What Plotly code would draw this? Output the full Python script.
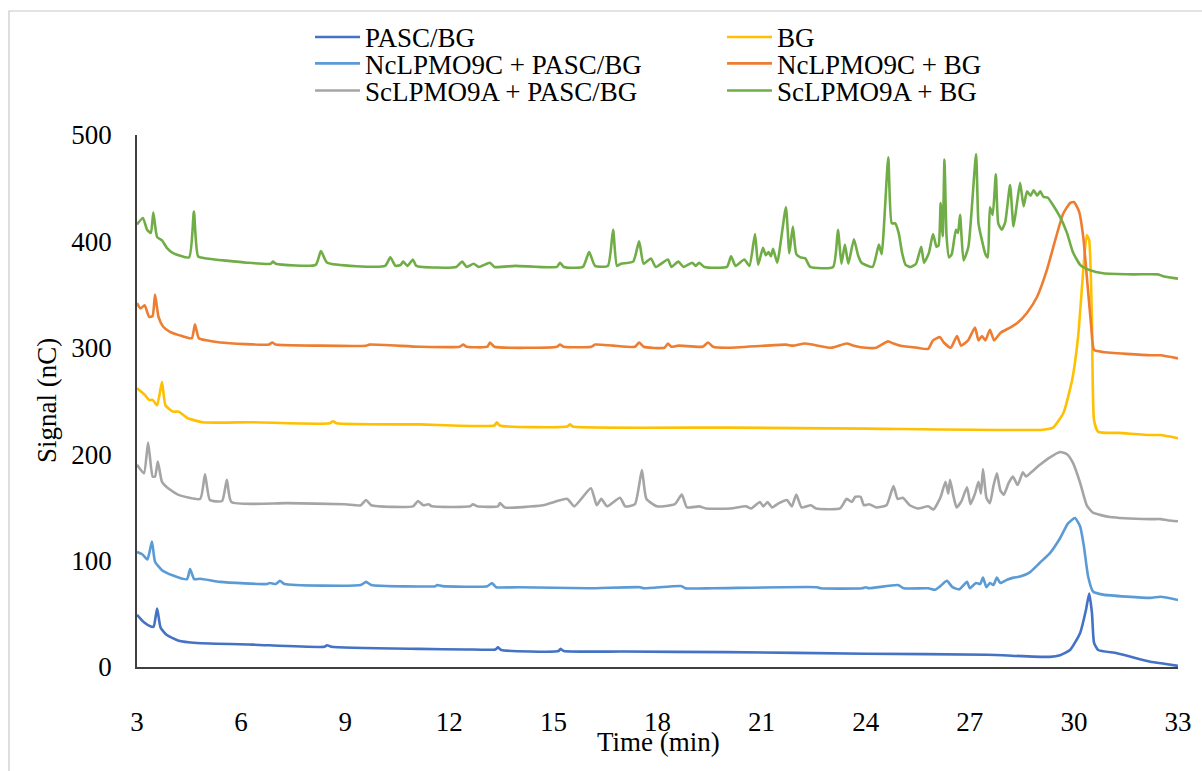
import plotly.graph_objects as go

# ---------------- data ----------------
pasc_x = [3.0, 3.2, 3.4, 3.48, 3.58, 3.68, 3.86, 4.18, 4.73, 6.34, 8.4, 8.48, 8.6, 11.15, 12.5, 13.33, 13.4, 13.5,
          15.15, 15.2, 15.3, 17.0, 20.0, 24.0, 27.5, 29.31, 29.6, 29.89, 30.18, 30.35, 30.44, 30.52, 30.58, 30.7,
          31.24, 32.2, 32.6, 33.0]
pasc_y = [49, 42, 38, 38, 55, 37, 30, 25, 22.5, 21, 19, 20.5, 19, 17, 16.5, 16.5, 18.5, 16,
          15, 17, 15, 14.5, 14, 12.5, 11.5, 9.5, 11, 16, 32, 54, 69, 51, 23, 16,
          13, 5, 3, 1]

bg_x = [3.0, 3.22, 3.35, 3.45, 3.58, 3.72, 3.82, 4.04, 4.2, 4.45, 4.9, 6.34, 8.55, 8.65, 8.75, 11.15, 13.3, 13.37,
        13.45, 15.4, 15.48, 15.56, 20.0, 24.0, 29.1, 29.4, 29.7, 29.95, 30.12, 30.27, 30.37, 30.44, 30.52, 30.58,
        30.7, 31.3, 32.2, 32.5, 33.0]
bg_y = [262, 256, 251, 251, 246, 268, 246, 240, 240, 234, 230, 230, 229, 231, 229, 228, 227, 230,
        227, 226, 228, 226, 225, 224, 223, 225, 239, 270, 310, 373, 406, 401, 326, 232,
        221, 220, 218, 218, 215]

nc_pasc_x = [3.0, 3.15, 3.3, 3.43, 3.52, 3.72, 4.04, 4.44, 4.53, 4.65, 4.82, 5.4, 6.75, 6.83, 7.0, 7.12, 7.25,
             9.45, 9.6, 9.75, 11.6, 11.65, 11.8, 13.1, 13.23, 13.35, 14.0, 16.0, 17.5, 17.6, 18.7, 18.8, 19.6,
             22.6, 22.7, 23.9, 24.0, 24.1, 24.93, 25.1, 25.8, 26.0, 26.15, 26.34, 26.5, 26.7, 26.92, 27.0, 27.18,
             27.3, 27.38, 27.48, 27.58, 27.68, 27.78, 27.88, 28.07, 28.26, 28.45, 28.73, 29.02, 29.31, 29.6,
             29.83, 30.03, 30.18, 30.29, 30.41, 30.55, 30.84, 32.2, 32.5, 33.0]
nc_pasc_y = [108, 106, 101, 118, 99, 91, 86, 82.5, 92, 82.5, 83, 80, 78, 79, 78, 81, 78,
             77, 80, 77, 76, 77, 76, 76, 79, 75, 75, 74, 75, 74, 76, 74, 74,
             75, 74, 74, 75, 74, 77, 74, 74, 72.6, 76, 81, 75, 73, 80, 74, 79,
             78, 84, 75, 79, 77, 84, 79, 82, 84, 85, 89, 98, 107, 121,
             135, 140, 132, 113, 85, 71, 68, 65, 66, 63]

nc_bg_x = [3.0, 3.1, 3.22, 3.35, 3.45, 3.52, 3.62, 3.75, 3.95, 4.3, 4.58, 4.67, 4.78, 5.0, 5.4, 6.8, 6.9, 7.0,
           8.27, 9.6, 9.7, 11.15, 12.3, 12.4, 12.5, 13.1, 13.17, 13.3, 15.1, 15.19, 15.3, 16.1, 16.2, 16.72,
           17.35, 17.47, 17.6, 18.2, 18.3, 18.4, 18.6, 19.3, 19.46, 19.6, 20.0, 21.7, 21.9, 22.25, 23.0, 23.45,
           23.66, 24.0, 24.3, 24.64, 24.8, 25.0, 25.5, 25.8, 25.94, 26.14, 26.25, 26.45, 26.63, 26.75, 26.95,
           27.15, 27.25, 27.35, 27.45, 27.58, 27.7, 27.88, 28.16, 28.36, 28.65, 28.94, 29.22, 29.46, 29.69,
           29.89, 30.0, 30.15, 30.27, 30.38, 30.5, 30.58, 30.84, 32.2, 32.5, 33.0]
nc_bg_y = [342, 337, 340, 329, 330, 350, 329, 320, 315, 311, 309, 322, 309, 307, 305, 303, 305, 303,
           302, 302, 303, 301, 301, 303, 301, 301, 305, 301, 301, 303, 301, 301, 303, 302,
           301, 305, 301, 300, 304, 301, 302, 301, 305, 301, 300, 303, 302, 304, 300, 304,
           302, 300, 300, 306, 304, 302, 300, 299, 307, 310, 305, 300, 311, 302, 307,
           319, 307, 311, 307, 317, 307, 314, 319, 323, 333, 348, 373, 401, 426,
           436, 437, 428, 404, 364, 320, 298, 296, 293, 293, 290]

sc_pasc_x = [3.0, 3.2, 3.32, 3.45, 3.52, 3.6, 3.72, 3.86, 4.18, 4.82, 4.96, 5.1, 5.45, 5.59, 5.72, 7.32, 9.0,
             9.45, 9.6, 9.75, 10.95, 11.1, 11.25, 11.4, 11.5, 12.6, 12.68, 12.8, 13.4, 13.46, 13.6, 14.7, 15.4,
             15.6, 16.08, 16.25, 16.38, 16.55, 16.92, 17.07, 17.35, 17.55, 17.68, 17.98, 18.5, 18.7, 18.85,
             19.2, 19.4, 20.1, 20.55, 20.7, 20.95, 21.05, 21.17, 21.3, 21.5, 21.73, 21.87, 22.0, 22.15, 22.42,
             22.57, 23.26, 23.45, 23.6, 23.7, 23.85, 23.95, 24.1, 24.3, 24.6, 24.8, 24.92, 25.07, 25.27, 25.5,
             25.8, 25.95, 26.15, 26.3, 26.38, 26.43, 26.52, 26.62, 26.76, 26.92, 27.02, 27.15, 27.25, 27.32,
             27.38, 27.48, 27.58, 27.68, 27.78, 27.88, 27.98, 28.12, 28.24, 28.38, 28.53, 28.62, 28.77, 29.02,
             29.31, 29.6, 29.8, 29.97, 30.18, 30.37, 30.55, 31.04, 32.2, 32.5, 32.7, 33.0]
sc_pasc_y = [190, 182, 211, 179, 179, 193, 174, 169, 162, 158, 181, 157, 156, 176, 155, 154, 153,
             152, 157, 152, 151, 156, 152, 153, 151, 151, 153, 151, 151, 154, 150, 152, 158,
             151, 168, 152, 158, 151, 159, 151, 153, 185, 158, 151, 153, 162, 150,
             151, 149, 149, 151, 149, 155, 151, 155, 150, 154, 157, 151, 162, 150, 152,
             149, 149, 158, 155, 160, 160, 152, 153, 150, 152, 170, 158, 159, 152, 149,
             151, 148, 159, 174, 163, 176, 162, 150, 156, 169, 153, 163, 174, 163,
             186, 159, 154, 170, 182, 166, 162, 173, 179, 171, 183, 179, 183, 190,
             197, 202, 200, 192, 173, 152, 145, 141, 139, 139, 138, 137]

sc_bg_x = [3.0, 3.17, 3.29, 3.4, 3.47, 3.58, 3.72, 3.86, 4.04, 4.5, 4.64, 4.76, 5.0, 6.17, 6.85, 6.92, 7.0, 8.15,
           8.3, 8.48, 10.15, 10.3, 10.45, 10.6, 10.67, 10.8, 10.95, 11.05, 12.2, 12.37, 12.5, 12.7, 12.85, 13.17,
           13.3, 13.9, 15.1, 15.19, 15.3, 15.85, 16.03, 16.2, 16.57, 16.72, 16.83, 16.95, 17.3, 17.47, 17.6,
           17.81, 17.95, 18.3, 18.4, 18.6, 18.75, 19.0, 19.1, 19.2, 19.35, 20.0, 20.12, 20.25, 20.5, 20.65,
           20.81, 20.9, 21.04, 21.12, 21.2, 21.27, 21.33, 21.45, 21.7, 21.8, 21.9, 22.0, 22.12, 22.26, 22.4,
           23.06, 23.2, 23.3, 23.4, 23.5, 23.66, 23.78, 23.88, 24.2, 24.38, 24.46, 24.65, 24.75, 24.85, 24.95,
           25.05, 25.15, 25.3, 25.45, 25.6, 25.68, 25.82, 25.94, 26.04, 26.1, 26.16, 26.22, 26.27, 26.33,
           26.4, 26.48, 26.6, 26.66, 26.72, 26.82, 26.96, 27.18, 27.25, 27.35, 27.45, 27.52, 27.58, 27.66,
           27.75, 27.82, 27.92, 28.02, 28.16, 28.26, 28.36, 28.45, 28.55, 28.65, 28.75, 28.84, 28.94, 29.03,
           29.12, 29.25, 29.4, 29.6, 29.8, 29.97, 30.18, 30.46, 30.84, 31.7, 32.42, 32.6, 33.0]
sc_bg_y = [416, 422, 411, 408, 427, 404, 401, 394, 389, 385, 428, 386, 384, 380, 379, 381, 379, 378,
           391, 380, 377, 385, 377, 378, 381, 377, 383, 377, 376, 381, 376, 379, 376, 380,
           376, 377, 376, 380, 376, 376, 390, 377, 377, 411, 377, 379, 381, 400, 379,
           384, 376, 383, 376, 381, 376, 380, 377, 380, 376, 376, 386, 377, 383, 377,
           407, 378, 394, 387, 390, 386, 393, 380, 432, 389, 414, 388, 385, 384, 376,
           376, 411, 379, 397, 379, 402, 387, 380, 376, 397, 388, 479, 417, 417, 408,
           389, 378, 376, 379, 395, 380, 389, 407, 395, 396, 436, 405, 477, 405,
           385, 388, 411, 408, 425, 382, 395, 482, 417, 401, 388, 385, 432, 425,
           463, 417, 411, 418, 453, 414, 436, 455, 433, 447, 443, 448, 443, 447,
           442, 441, 434, 423, 408, 390, 378, 373, 370, 369, 369, 367, 365]

series_names = ["PASC/BG", "BG", "NcLPMO9C + PASC/BG", "NcLPMO9C + BG", "ScLPMO9A + PASC/BG", "ScLPMO9A + BG"]
series_x = [pasc_x, bg_x, nc_pasc_x, nc_bg_x, sc_pasc_x, sc_bg_x]
series_y = [pasc_y, bg_y, nc_pasc_y, nc_bg_y, sc_pasc_y, sc_bg_y]
series_colors = ["#4472C4", "#FFC000", "#5B9BD5", "#ED7D31", "#A5A5A5", "#70AD47"]

x_ticks = [3, 6, 9, 12, 15, 18, 21, 24, 27, 30, 33]
y_ticks = [0, 100, 200, 300, 400, 500]

# ---------------- figure ----------------
FONT = "Liberation Serif"
FS = 27
legend_ids = ["legend", "legend2", "legend3", "legend4", "legend5", "legend6"]
# positions (paper coords) of each legend entry: two columns, three rows
legend_pos = [(0.1662, 1.1835), (0.562, 1.1835),
              (0.1662, 1.1337), (0.562, 1.1337),
              (0.1662, 1.0829), (0.562, 1.0829)]

fig = go.Figure()
for name, xs, ys, col, lid in zip(series_names, series_x, series_y, series_colors, legend_ids):
    fig.add_trace(go.Scatter(x=xs, y=ys, mode="lines", name=name, legend=lid,
                             line=dict(color=col, width=2.6, shape="spline", smoothing=0.5)))

layout_legends = {}
for lid, (lx, ly) in zip(legend_ids, legend_pos):
    layout_legends[lid] = dict(x=lx, y=ly, xanchor="left", yanchor="middle",
                               font=dict(family=FONT, size=FS, color="black"),
                               bgcolor="rgba(0,0,0,0)", borderwidth=0, itemwidth=45)

fig.update_layout(
    width=1202, height=771,
    paper_bgcolor="white", plot_bgcolor="white",
    margin=dict(l=137, r=24, t=135, b=104, autoexpand=False),
    font=dict(family=FONT, size=FS, color="black"),
    showlegend=True,
    **layout_legends,
    xaxis=dict(range=[3, 33], tickvals=x_ticks, ticktext=[str(v) for v in x_ticks],
               showgrid=False, zeroline=False, showline=True, linecolor="#404040", linewidth=1.5,
               ticks="", ticklabelstandoff=30,
               tickfont=dict(family=FONT, size=FS, color="black")),
    yaxis=dict(range=[0, 500], tickvals=y_ticks, ticktext=[str(v) for v in y_ticks],
               showgrid=False, zeroline=False, showline=True, linecolor="#404040", linewidth=1.5,
               ticks="", ticklabelstandoff=18,
               tickfont=dict(family=FONT, size=FS, color="black")),
    annotations=[
        dict(text="Time (min)", xref="paper", yref="paper", x=(658 - 137) / 1041, y=(667 - 742) / 532,
             xanchor="center", yanchor="middle", showarrow=False,
             font=dict(family=FONT, size=FS, color="black")),
        dict(text="Signal (nC)", xref="paper", yref="paper", x=(47 - 137) / 1041, y=0.5,
             xanchor="center", yanchor="middle", showarrow=False, textangle=-90,
             font=dict(family=FONT, size=FS, color="black")),
    ],
    shapes=[dict(type="rect", xref="paper", yref="paper",
                 x0=(9 - 137) / 1041, x1=(1210 - 137) / 1041,
                 y0=(667 - 790) / 532, y1=(667 - 11) / 532,
                 line=dict(color="#C8C8C8", width=1.2), fillcolor="rgba(0,0,0,0)", layer="below")],
)

fig.write_html("out.html")
